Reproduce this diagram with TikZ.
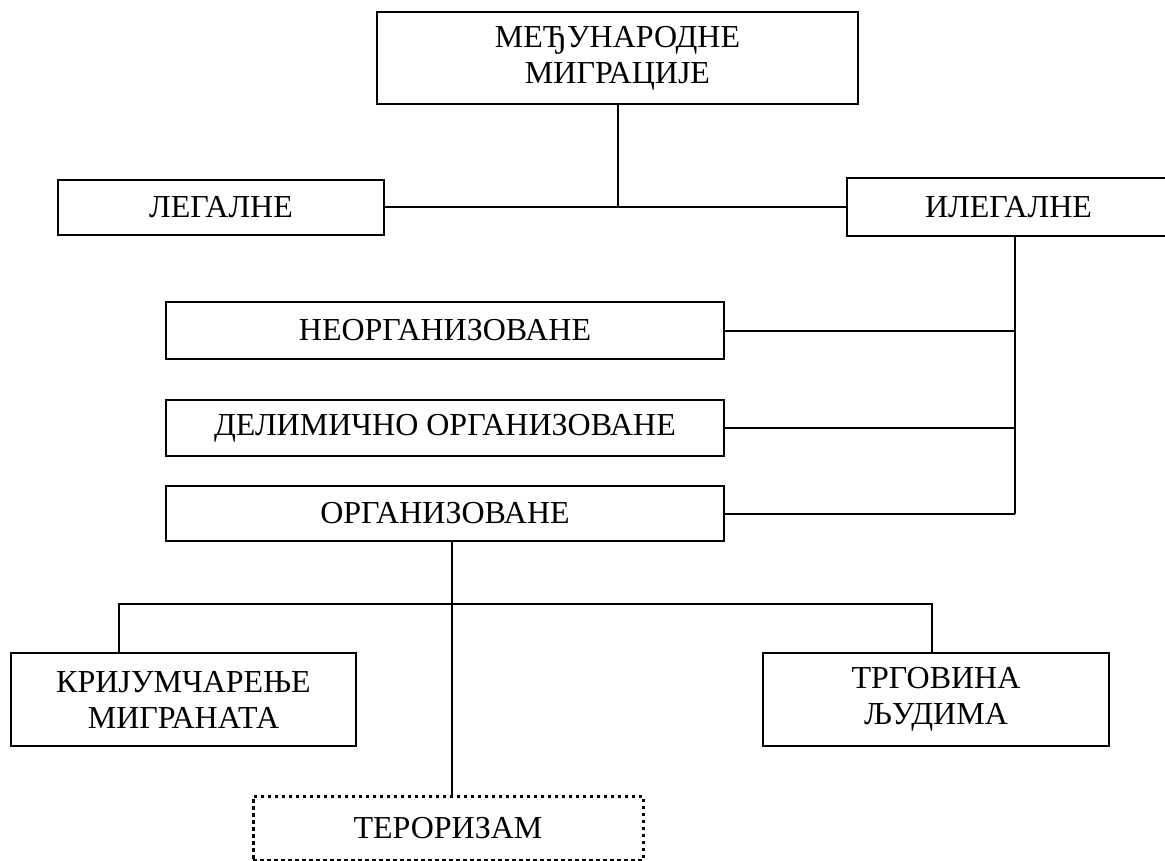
\documentclass[tikz,border=0pt]{standalone}
\usepackage{fontspec}
\setmainfont{Liberation Serif}
\begin{document}
\begin{tikzpicture}[x=1pt,y=-1pt,
  box/.style={draw, line width=2pt, inner sep=0pt, align=center,
    font=\fontsize{32}{36}\selectfont},
  dotbox/.style={box, line width=3pt, dash pattern=on 3.5pt off 3.5pt},
  link/.style={line width=2pt}]
\useasboundingbox (0,0) rectangle (1165,861);

% boxes
\node[box, minimum width=481pt, minimum height=92pt] (top)   at (617.5,58)   {\raisebox{-3pt}{МЕЂУНАРОДНЕ}\\\raisebox{-3pt}{МИГРАЦИЈЕ}};
\node[box, minimum width=326pt, minimum height=55pt] (leg)   at (221,207.5)  {ЛЕГАЛНЕ};
\node[box, minimum width=323pt, minimum height=58pt] (ileg)  at (1008.5,207.5) {\makebox[317pt]{ИЛЕГАЛНЕ}};
\node[box, minimum width=558pt, minimum height=57pt] (neorg) at (445,330.5)  {НЕОРГАНИЗОВАНЕ};
\node[box, minimum width=558pt, minimum height=56pt] (delim) at (445,428)    {ДЕЛИМИЧНО ОРГАНИЗОВАНЕ};
\node[box, minimum width=558pt, minimum height=55pt] (org)   at (445,513.5)  {ОРГАНИЗОВАНЕ};
\node[box, minimum width=345pt, minimum height=93pt] (krij)  at (183.5,699.5) {КРИЈУМЧАРЕЊЕ\\МИГРАНАТА};
\node[box, minimum width=346pt, minimum height=93pt] (trg)   at (936,699.5)  {ТРГОВИНА\\ЉУДИМА};
\node[dotbox, minimum width=390pt, minimum height=64pt] (ter) at (448,828) {ТЕРОРИЗАМ};

% guide points for the connector trunks
\coordinate (bus)   at (1015,0);
\coordinate (trunk) at (452,0);
\coordinate (kl)    at (119,604);
\coordinate (kr)    at (932,604);

% connectors
\draw[link] (top.south) -- (top.south |- leg.east);
\draw[link] (leg.east) -- (ileg.west);
\draw[link] (ileg.south -| bus) -- (org.east -| bus);
\draw[link] (neorg.east) -- (neorg.east -| bus);
\draw[link] (delim.east) -- (delim.east -| bus);
\draw[link] (org.east) -- (org.east -| bus);
\draw[link] (org.south -| trunk) -- (ter.north -| trunk);
\draw[link] (kl |- krij.north) -- (kl) -- (kr) -- (kr |- trg.north);
\end{tikzpicture}
\end{document}
